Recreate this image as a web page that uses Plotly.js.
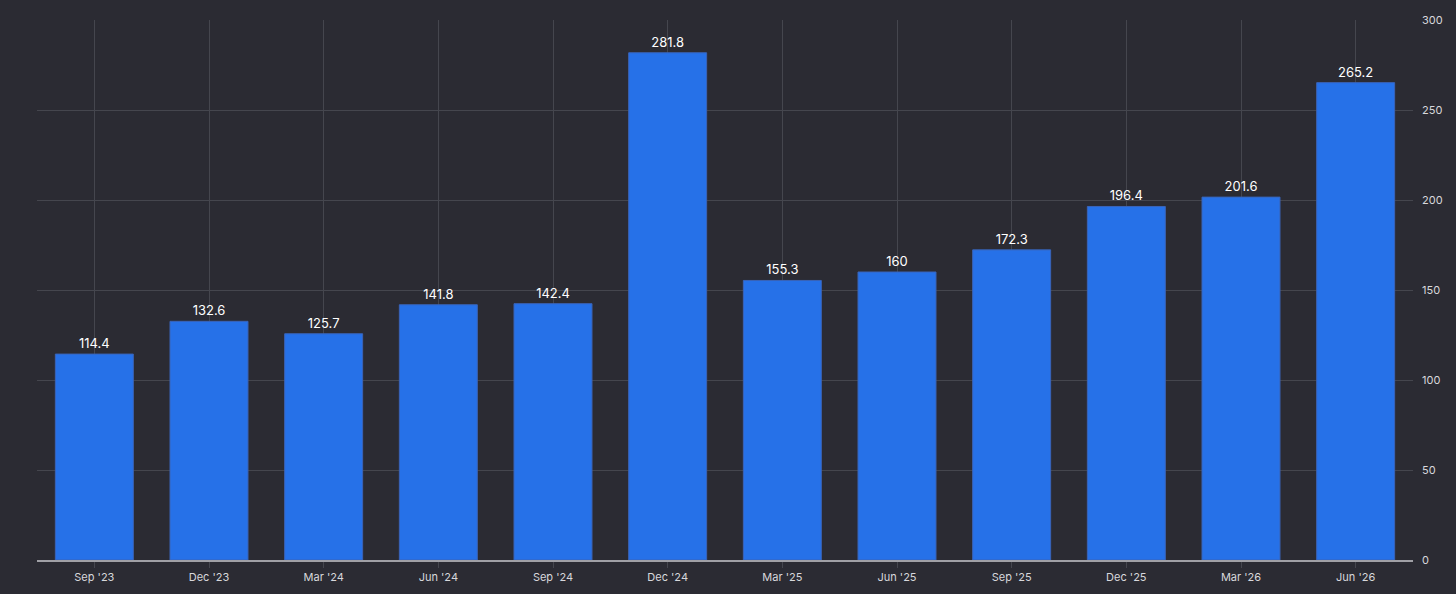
<!DOCTYPE html>
<html>
<head>
<meta charset="utf-8">
<script src="https://cdn.plot.ly/plotly-3.0.1.min.js"></script>
<style>
  html, body { margin: 0; padding: 0; background: #2b2b33; }
  #graph { width: 1456px; height: 594px; }
</style>
</head>
<body>
<div id="graph"></div>
<script>
const quarters = ["Sep '23", "Dec '23", "Mar '24", "Jun '24", "Sep '24", "Dec '24",
                  "Mar '25", "Jun '25", "Sep '25", "Dec '25", "Mar '26", "Jun '26"]
const values = [114.4, 132.6, 125.7, 141.8, 142.4, 281.8, 155.3, 160, 172.3, 196.4, 201.6, 265.2]
const yTicks = [0, 50, 100, 150, 200, 250, 300]

const trace = {
    x: quarters,
    y: values,
    type: "bar",
    text: values.map(v => String(v)),
    textposition: "outside",
    cliponaxis: false,
    textfont: { color: "#ffffff", size: 13, family: "Inter, 'Open Sans', sans-serif" },
    marker: { color: "#2671e8", line: { color: "#3a64b8", width: 1 } },
    hoverinfo: "none"
}

const layout = {
    width: 1456,
    height: 594,
    paper_bgcolor: "#2b2b33",
    plot_bgcolor: "#2b2b33",
    margin: { l: 37, r: 43, t: 20, b: 34 },
    bargap: 0.32,
    showlegend: false,
    font: { family: "Inter, 'Open Sans', sans-serif", color: "#d8d8dc", size: 11 },
    xaxis: {
        type: "category",
        showgrid: true,
        gridcolor: "#45464e",
        gridwidth: 1,
        showline: true,
        linecolor: "#a0a0a6",
        linewidth: 1.5,
        ticks: "outside",
        ticklen: 6,
        tickcolor: "#45464e",
        tickfont: { size: 11, color: "#d8d8dc" }
    },
    yaxis: {
        side: "right",
        range: [0, 300],
        tickvals: yTicks,
        showgrid: true,
        gridcolor: "#45464e",
        gridwidth: 1,
        zeroline: false,
        ticks: "",
        ticklabelstandoff: 8,
        tickfont: { size: 11, color: "#d8d8dc" }
    }
}

Plotly.newPlot("graph", [trace], layout, { displayModeBar: false, staticPlot: true })
</script>
</body>
</html>
